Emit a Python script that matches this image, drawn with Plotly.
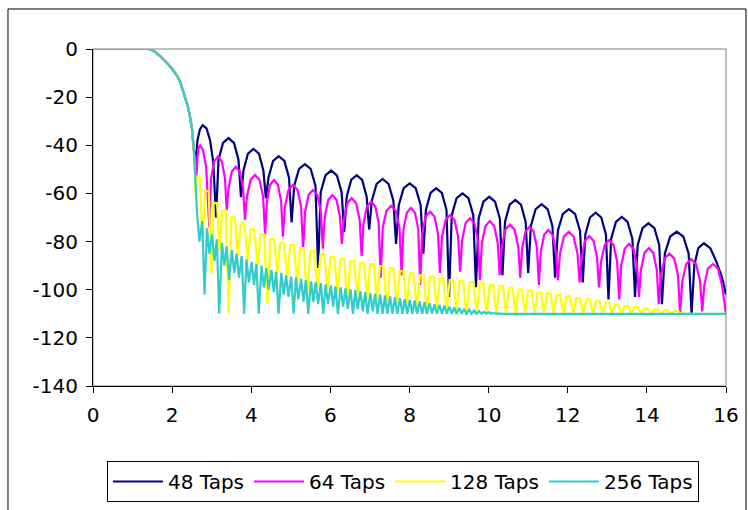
import plotly.graph_objects as go

# ---------------- data ----------------
SERIES_NAMES = ["48 Taps", "64 Taps", "128 Taps", "256 Taps"]
X_TICKS = [0, 2, 4, 6, 8, 10, 12, 14, 16]
X_TICK_TEXT = ["0", "2", "4", "6", "8", "10", "12", "14", "16"]
Y_TICKS = [0, -20, -40, -60, -80, -100, -120, -140]
Y_TICK_TEXT = ["0", "-20", "-40", "-60", "-80", "-100", "-120", "-140"]

# common pass-band / transition part
ROLL_X = [0.0, 0.5, 1.0, 1.4, 1.5, 1.6, 1.7, 1.8, 1.9, 2.0, 2.1, 2.2, 2.3, 2.4, 2.45, 2.5, 2.55]
ROLL_DB = [0, 0, 0, 0, -0.5, -1.5, -3, -4.5, -6.3, -8.3, -10.5, -13.5, -18.5, -24, -28, -33, -42]

# 48 taps stop band
NAVY_X = [2.59, 2.64, 2.70, 2.77, 2.87, 2.96, 3.04, 3.11,
          3.173, 3.286, 3.425, 3.564, 3.677, 3.74,
          3.803, 3.916, 4.055, 4.194, 4.307, 4.37,
          4.435, 4.552, 4.695, 4.838, 4.955, 5.02,
          5.087, 5.208, 5.355, 5.502, 5.623, 5.69,
          5.756, 5.875, 6.02, 6.165, 6.284, 6.35,
          6.413, 6.526, 6.665, 6.804, 6.917, 6.98,
          7.048, 7.17, 7.32, 7.47, 7.592, 7.66,
          7.729, 7.853, 8.005, 8.157, 8.281, 8.35,
          8.415, 8.532, 8.675, 8.818, 8.935, 9.00,
          9.068, 9.19, 9.34, 9.49, 9.612, 9.68,
          9.747, 9.868, 10.015, 10.162, 10.283, 10.35,
          10.415, 10.532, 10.675, 10.818, 10.935, 11.00,
          11.068, 11.19, 11.34, 11.49, 11.612, 11.68,
          11.75, 11.876, 12.03, 12.184, 12.31, 12.38,
          12.445, 12.562, 12.705, 12.848, 12.965, 13.03,
          13.097, 13.218, 13.365, 13.512, 13.633, 13.70,
          13.768, 13.89, 14.04, 14.19, 14.312, 14.38,
          14.455, 14.59, 14.755, 14.92, 15.055, 15.13,
          15.2, 15.3, 15.44, 15.6, 15.75, 15.9, 16.0]
NAVY_DB = [-48, -38, -33.5, -31.6, -33, -38, -47, -70,
           -46, -39, -37, -39, -46, -61.5,
           -50.5, -43.5, -41.5, -43.5, -50.5, -62,
           -53.5, -46.5, -44.5, -46.5, -53.5, -72,
           -56.8, -49.8, -47.8, -49.8, -56.8, -91,
           -59.5, -52.5, -50.5, -52.5, -59.5, -76,
           -61.4, -54.4, -52.4, -54.4, -61.4, -75,
           -63, -56, -54, -56, -63, -81,
           -64.8, -57.8, -55.8, -57.8, -64.8, -85,
           -66.8, -59.8, -57.8, -59.8, -66.8, -103,
           -69, -62, -60, -62, -69, -99,
           -70.4, -63.4, -61.4, -63.4, -70.4, -94,
           -71.7, -64.7, -62.7, -64.7, -71.7, -93,
           -73.5, -66.5, -64.5, -66.5, -73.5, -95,
           -75.5, -68.5, -66.5, -68.5, -75.5, -97,
           -77, -70, -68, -70, -77, -104,
           -78.8, -71.8, -69.8, -71.8, -78.8, -103,
           -81.4, -74.4, -72.4, -74.4, -81.4, -106,
           -84.9, -77.9, -75.9, -77.9, -84.9, -110,
           -89.7, -82.7, -80.7, -82.7, -88, -95, -102]

# 64 taps stop band
MAG_X = [2.61, 2.64, 2.67, 2.71, 2.78, 2.86, 2.94,
         2.984, 3.063, 3.16, 3.257, 3.336, 3.38,
         3.426, 3.509, 3.61, 3.711, 3.794, 3.84,
         3.891, 3.983, 4.095, 4.207, 4.299, 4.35,
         4.395, 4.476, 4.575, 4.674, 4.755, 4.80,
         4.851, 4.943, 5.055, 5.167, 5.259, 5.31,
         5.36, 5.45, 5.56, 5.67, 5.76, 5.81,
         5.858, 5.944, 6.05, 6.156, 6.242, 6.29,
         6.34, 6.43, 6.54, 6.65, 6.74, 6.79,
         6.838, 6.924, 7.03, 7.136, 7.222, 7.27,
         7.323, 7.418, 7.535, 7.652, 7.747, 7.80,
         7.847, 7.932, 8.035, 8.138, 8.223, 8.27,
         8.32, 8.41, 8.52, 8.63, 8.72, 8.77,
         8.821, 8.913, 9.025, 9.137, 9.229, 9.28,
         9.33, 9.42, 9.53, 9.64, 9.73, 9.78,
         9.83, 9.92, 10.03, 10.14, 10.23, 10.28,
         10.332, 10.426, 10.54, 10.654, 10.748, 10.80,
         10.847, 10.932, 11.035, 11.138, 11.223, 11.27,
         11.318, 11.404, 11.51, 11.616, 11.702, 11.75,
         11.805, 11.904, 12.025, 12.146, 12.245, 12.30,
         12.349, 12.437, 12.545, 12.653, 12.741, 12.79,
         12.841, 12.933, 13.045, 13.157, 13.249, 13.30,
         13.35, 13.44, 13.55, 13.66, 13.75, 13.80,
         13.85, 13.94, 14.05, 14.16, 14.25, 14.30,
         14.354, 14.451, 14.57, 14.689, 14.786, 14.84,
         14.896, 14.997, 15.12, 15.243, 15.344, 15.40,
         15.45, 15.54, 15.67, 15.80, 15.90, 16.0]
MAG_DB = [-54, -45, -41, -40, -42, -49, -74,
          -53.7, -46.7, -44.7, -46.7, -53.7, -67,
          -57.9, -50.9, -48.9, -50.9, -57.9, -71,
          -61.3, -54.3, -52.3, -54.3, -61.3, -77,
          -63.4, -56.4, -54.4, -56.4, -63.4, -78,
          -65.5, -58.5, -56.5, -58.5, -65.5, -83,
          -67.6, -60.6, -58.6, -60.6, -67.6, -83,
          -69.7, -62.7, -60.7, -62.7, -69.7, -81,
          -71, -64, -62, -64, -71, -86,
          -72.4, -65.4, -63.4, -65.4, -72.4, -95,
          -74.2, -67.2, -65.2, -67.2, -74.2, -94,
          -75, -68, -66, -68, -75, -98,
          -76.6, -69.6, -67.6, -69.6, -76.6, -93,
          -78, -71, -69, -71, -78, -92.5,
          -79.3, -72.3, -70.3, -72.3, -79.3, -96,
          -80.5, -73.5, -71.5, -73.5, -80.5, -94,
          -82, -75, -73, -75, -82, -95,
          -82.8, -75.8, -73.8, -75.8, -82.8, -98,
          -84.2, -77.2, -75.2, -77.2, -84.2, -96,
          -84.9, -77.9, -75.9, -77.9, -84.9, -97,
          -86.7, -79.7, -77.7, -79.7, -86.7, -99,
          -88.4, -81.4, -79.4, -81.4, -88.4, -104,
          -90, -83, -81, -83, -90, -103,
          -91.7, -84.7, -82.7, -84.7, -91.7, -106,
          -94, -87, -85, -87, -94, -110,
          -96.3, -89.3, -87.3, -89.3, -96.3, -109,
          -98.3, -91.3, -89.3, -91.3, -98.3, -110]

# 128 taps: lobe tops (left / right edge of each top) and nulls
YEL_TOP_L = [2.625, 2.835, 3.045, 3.265, 3.495, 3.735, 3.985, 4.235, 4.485, 4.735,
             4.985, 5.235, 5.495, 5.755, 6.005, 6.255, 6.505, 6.755, 7.005, 7.255,
             7.505, 7.755, 8.005, 8.265, 8.515, 8.765, 9.015, 9.265, 9.525, 9.775,
             10.025, 10.275, 10.515, 10.755, 10.995, 11.235, 11.475, 11.715, 11.965, 12.215,
             12.465, 12.715, 12.955, 13.195, 13.435, 13.685, 13.935, 14.185, 14.435, 14.695]
YEL_TOP_R = [2.695, 2.925, 3.135, 3.355, 3.585, 3.825, 4.075, 4.325, 4.575, 4.825,
             5.075, 5.325, 5.585, 5.845, 6.095, 6.345, 6.595, 6.845, 7.095, 7.345,
             7.595, 7.845, 8.095, 8.355, 8.605, 8.855, 9.105, 9.355, 9.615, 9.865,
             10.115, 10.365, 10.605, 10.845, 11.085, 11.325, 11.565, 11.805, 12.055, 12.305,
             12.555, 12.805, 13.045, 13.285, 13.525, 13.775, 14.025, 14.275, 14.525, 14.785]
YEL_PEAK_DB = [-53, -59, -64, -67, -70, -72.5, -75, -77, -79, -80.5,
               -81.5, -82.7, -84, -85.3, -86.3, -87.3, -88.2, -88.8, -89.4, -90.2,
               -91, -92.3, -93.2, -94, -94.6, -95.2, -96, -96.3, -96.8, -97.4,
               -98, -98.5, -99.2, -100, -100.4, -101.2, -101.6, -102.2, -102.8, -103.5,
               -104, -104.8, -105.5, -106.3, -106.8, -107.2, -107.8, -108.2, -108.6, -108.8]
YEL_NULL_X = [2.60, 2.77, 2.99, 3.20, 3.43, 3.66, 3.91, 4.16, 4.41, 4.66,
              4.91, 5.16, 5.41, 5.67, 5.93, 6.18, 6.43, 6.68, 6.93, 7.18,
              7.43, 7.68, 7.93, 8.18, 8.44, 8.69, 8.94, 9.19, 9.44, 9.70,
              9.95, 10.20, 10.44, 10.68, 10.92, 11.16, 11.40, 11.64, 11.89, 12.14,
              12.39, 12.64, 12.88, 13.12, 13.36, 13.61, 13.86, 14.11, 14.36, 14.61,
              14.86, 16.0]
YEL_NULL_DB = [-62, -80, -93, -84, -110, -86, -88, -90, -106, -93,
               -95, -97, -103, -99, -100, -101, -106, -103, -104, -104,
               -108, -106, -107, -107, -110, -108, -109, -109, -110, -109.5,
               -110, -110, -110, -110, -110, -110, -110, -110, -110, -110,
               -110, -110, -110, -110, -110, -110, -110, -110, -110, -110,
               -110, -110]

# 256 taps: lobe peaks and nulls
CYAN_PEAK_X = [2.63, 2.76, 2.88, 3.01, 3.13, 3.26, 3.38, 3.51, 3.63, 3.76,
               3.88, 4.01, 4.13, 4.26, 4.38, 4.51, 4.63, 4.76, 4.88, 5.01,
               5.13, 5.26, 5.38, 5.51, 5.63, 5.76, 5.88, 6.01, 6.13, 6.26,
               6.38, 6.51, 6.63, 6.76, 6.88, 7.01, 7.13, 7.26, 7.38, 7.51,
               7.63, 7.76, 7.88, 8.01, 8.13, 8.26, 8.38, 8.51, 8.63, 8.76,
               8.88, 9.01, 9.13, 9.26, 9.38, 9.51, 9.63, 9.76, 9.88, 10.01,
               10.13, 10.26]
CYAN_PEAK_DB = [-68, -71.5, -74.5, -77, -79, -80.5, -82, -83.5, -85, -86,
                -87.5, -88.3, -89.2, -90, -91, -91.8, -92.5, -93, -94, -94.5,
                -95, -95.5, -96, -96.5, -97, -97.3, -97.8, -98.2, -98.6, -99,
                -99.4, -99.8, -100.2, -100.6, -101, -101.3, -101.7, -102, -102.4, -102.8,
                -103.1, -103.5, -103.8, -104.2, -104.5, -104.9, -105.2, -105.6, -106, -106.3,
                -106.6, -107, -107.3, -107.6, -108, -108.3, -108.6, -108.9, -109.2, -109.4,
                -109.6, -109.8]
CYAN_NULL_X = [2.69, 2.82, 2.94, 3.07, 3.19, 3.32, 3.44, 3.57, 3.69, 3.82,
               3.94, 4.07, 4.19, 4.32, 4.44, 4.57, 4.69, 4.82, 4.94, 5.07,
               5.19, 5.32, 5.44, 5.57, 5.69, 5.82, 5.94, 6.07, 6.19, 6.32,
               6.44, 6.57, 6.69, 6.82, 6.94, 7.07, 7.19, 7.32, 7.44, 7.57,
               7.69, 7.82, 7.94, 8.07, 8.19, 8.32, 8.44, 8.57, 8.69, 8.82,
               8.94, 9.07, 9.19, 9.32, 9.44, 9.57, 9.69, 9.82, 9.94, 10.07,
               10.19, 10.32, 16.0]
CYAN_NULL_DB = [-80, -102, -85, -88, -110, -90, -96, -93, -95, -110,
                -97, -98, -110, -99, -100, -101, -110, -102, -103, -110,
                -104, -105, -110, -105, -106, -110, -106, -107, -110, -107,
                -108, -110, -108, -109, -110, -109, -110, -110, -110, -110,
                -110, -110, -110, -110, -110, -110, -110, -110, -110, -110,
                -110, -110, -110, -110, -110, -110, -110, -110, -110, -110,
                -110, -110, -110]


def build(*pairs):
    pts = []
    for xs, ys in pairs:
        pts.extend(zip(xs, ys))
    pts.sort(key=lambda p: p[0])
    return [p[0] for p in pts], [p[1] for p in pts]


navy = build((ROLL_X, ROLL_DB), (NAVY_X, NAVY_DB))
mag = build((ROLL_X, ROLL_DB), (MAG_X, MAG_DB))
yel = build((ROLL_X, ROLL_DB), (YEL_TOP_L, YEL_PEAK_DB), (YEL_TOP_R, YEL_PEAK_DB),
            (YEL_NULL_X, YEL_NULL_DB))
cyan = build((ROLL_X, ROLL_DB), (CYAN_PEAK_X, CYAN_PEAK_DB), (CYAN_NULL_X, CYAN_NULL_DB))

COLORS = ["#000080", "#FF00FF", "#FFFF00", "#33CCCC"]
FONT = "DejaVu Sans, Arial, sans-serif"

fig = go.Figure()
for name, (xs, ys), col in zip(SERIES_NAMES, [navy, mag, yel, cyan], COLORS):
    fig.add_trace(go.Scatter(x=xs, y=ys, mode="lines", name=name,
                             line=dict(color=col, width=2.2)))

axis_common = dict(showgrid=False, zeroline=False, showline=True, linecolor="black",
                   linewidth=1, ticks="outside", ticklen=6, tickcolor="black",
                   tickwidth=1, automargin=False,
                   tickfont=dict(family=FONT, size=20, color="black"))

fig.update_layout(
    width=748, height=510,
    margin=dict(l=93, r=22, t=49, b=124, autoexpand=False),
    paper_bgcolor="white", plot_bgcolor="white",
    xaxis=dict(range=[0, 16], tickvals=X_TICKS, ticktext=X_TICK_TEXT,
               ticklabelstandoff=5, **axis_common),
    yaxis=dict(range=[-140, 0], tickvals=Y_TICKS, ticktext=Y_TICK_TEXT,
               ticklabelstandoff=4, **axis_common),
    showlegend=True,
    legend=dict(orientation="h", x=0.022, y=-0.2226, xanchor="left", yanchor="top",
                bordercolor="black", borderwidth=1, bgcolor="white",
                itemwidth=50, tracegroupgap=0,
                font=dict(family=FONT, size=20, color="black")),
    shapes=[
        dict(type="rect", xref="paper", yref="paper", x0=0, x1=1, y0=0, y1=1,
             line=dict(color="#808080", width=1), layer="below"),
        dict(type="rect", xref="paper", yref="paper", x0=-0.1343, x1=1.0316,
             y0=-0.374, y1=1.1187, line=dict(color="black", width=1), layer="below"),
    ],
)

fig.write_html("out.html")
